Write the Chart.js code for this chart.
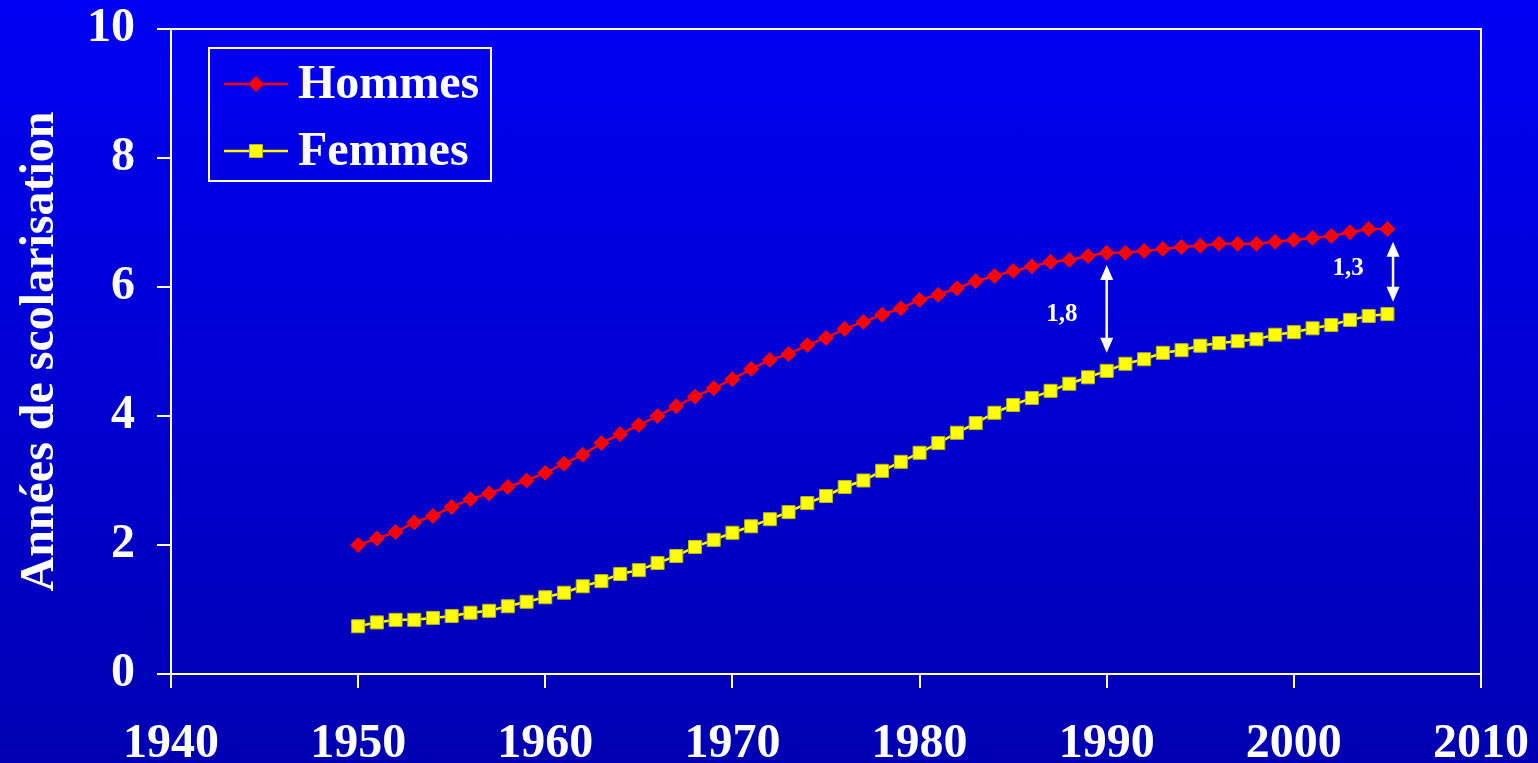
<!DOCTYPE html>
<html>
<head>
<meta charset="utf-8">
<script src="https://cdn.jsdelivr.net/npm/chart.js@4.4.1/dist/chart.umd.min.js"></script>
<style>
  html, body { margin: 0; padding: 0; width: 1538px; height: 763px; overflow: hidden; }
  body { background: linear-gradient(to bottom, #0000f4, #0000b2); }
  canvas { display: block; }
</style>
</head>
<body>
<canvas id="scol" width="1538" height="763"></canvas>
<script>
// Années de scolarisation moyennes, par sexe
const annees = [1950, 1951, 1952, 1953, 1954, 1955, 1956, 1957, 1958, 1959,
                1960, 1961, 1962, 1963, 1964, 1965, 1966, 1967, 1968, 1969,
                1970, 1971, 1972, 1973, 1974, 1975, 1976, 1977, 1978, 1979,
                1980, 1981, 1982, 1983, 1984, 1985, 1986, 1987, 1988, 1989,
                1990, 1991, 1992, 1993, 1994, 1995, 1996, 1997, 1998, 1999,
                2000, 2001, 2002, 2003, 2004, 2005];
const hommes = [2.0, 2.1, 2.2, 2.35, 2.45, 2.59, 2.71, 2.8, 2.9, 3.0,
                3.12, 3.26, 3.4, 3.58, 3.72, 3.86, 4.0, 4.15, 4.3, 4.43,
                4.57, 4.73, 4.87, 4.96, 5.1, 5.21, 5.35, 5.46, 5.57, 5.67,
                5.8, 5.88, 5.98, 6.09, 6.17, 6.25, 6.32, 6.39, 6.42, 6.48,
                6.53, 6.53, 6.56, 6.59, 6.62, 6.64, 6.67, 6.67, 6.67, 6.7,
                6.73, 6.76, 6.79, 6.85, 6.9, 6.9];
const femmes = [0.74, 0.8, 0.84, 0.84, 0.87, 0.9, 0.95, 0.98, 1.05, 1.12,
                1.19, 1.26, 1.36, 1.44, 1.55, 1.61, 1.72, 1.83, 1.97, 2.08,
                2.19, 2.29, 2.4, 2.51, 2.65, 2.76, 2.9, 3.0, 3.15, 3.29,
                3.43, 3.58, 3.74, 3.89, 4.05, 4.17, 4.28, 4.39, 4.5, 4.6,
                4.7, 4.81, 4.88, 4.98, 5.02, 5.09, 5.13, 5.16, 5.19, 5.26,
                5.3, 5.36, 5.41, 5.49, 5.55, 5.58];
const ticksX = [1940, 1950, 1960, 1970, 1980, 1990, 2000, 2010];
const ticksY = [0, 2, 4, 6, 8, 10];

// écarts hommes / femmes (flèches)
const ecarts = [
  { x: 1990, haut: 6.34, bas: 4.98, texte: '1,8', tx: 1987.6, ty: 5.57 },
  { x: 2005.3, haut: 6.70, bas: 5.77, texte: '1,3', tx: 2002.9, ty: 6.28 }
];

const police = '"Liberation Serif", "Times New Roman", serif';

// pas de marge automatique autour des axes
const sansMarge = s => { s.paddingTop = 0; s.paddingBottom = 0; s.paddingLeft = 0; s.paddingRight = 0; };

// cadre haut + droite
const cadre = {
  id: 'cadre',
  beforeDatasetsDraw(chart) {
    const { ctx, chartArea: a } = chart;
    ctx.save();
    ctx.strokeStyle = '#fff';
    ctx.lineWidth = 2;
    ctx.beginPath();
    ctx.moveTo(a.left, a.top);
    ctx.lineTo(a.right, a.top);
    ctx.lineTo(a.right, a.bottom);
    ctx.stroke();
    ctx.restore();
  }
};

const fleches = {
  id: 'fleches',
  afterDatasetsDraw(chart) {
    const { ctx, scales: { x, y } } = chart;
    ctx.save();
    ctx.strokeStyle = '#fff';
    ctx.fillStyle = '#fff';
    ctx.lineWidth = 2.5;
    ecarts.forEach(e => {
      const px = x.getPixelForValue(e.x);
      const y1 = y.getPixelForValue(e.haut);
      const y2 = y.getPixelForValue(e.bas);
      ctx.beginPath();
      ctx.moveTo(px, y1 + 8);
      ctx.lineTo(px, y2 - 8);
      ctx.stroke();
      ctx.beginPath();
      ctx.moveTo(px, y1);
      ctx.lineTo(px - 6.5, y1 + 15);
      ctx.lineTo(px + 6.5, y1 + 15);
      ctx.closePath();
      ctx.fill();
      ctx.beginPath();
      ctx.moveTo(px, y2);
      ctx.lineTo(px - 6.5, y2 - 15);
      ctx.lineTo(px + 6.5, y2 - 15);
      ctx.closePath();
      ctx.fill();
      ctx.font = 'bold 25px ' + police;
      ctx.textAlign = 'center';
      ctx.textBaseline = 'middle';
      ctx.fillText(e.texte, x.getPixelForValue(e.tx), y.getPixelForValue(e.ty));
    });
    ctx.restore();
  }
};

// légende encadrée dans la zone du graphique
const legende = {
  id: 'legende',
  afterDraw(chart) {
    const { ctx, chartArea: a } = chart;
    const x0 = a.left + 38, y0 = a.top + 19;
    ctx.save();
    ctx.strokeStyle = '#fff';
    ctx.lineWidth = 2;
    ctx.strokeRect(x0, y0, 282, 133);
    chart.data.datasets.forEach((ds, i) => {
      const cy = y0 + 36 + i * 67;
      ctx.strokeStyle = ds.borderColor;
      ctx.lineWidth = ds.borderWidth;
      ctx.beginPath();
      ctx.moveTo(x0 + 15, cy);
      ctx.lineTo(x0 + 79, cy);
      ctx.stroke();
      ctx.fillStyle = ds.pointBackgroundColor;
      ctx.strokeStyle = ds.pointBorderColor;
      ctx.lineWidth = 1;
      Chart.helpers.drawPoint(ctx, { pointStyle: ds.pointStyle, radius: ds.pointRadius, borderWidth: 1, rotation: 0 }, x0 + 47, cy);
      ctx.fillStyle = '#fff';
      ctx.font = 'bold 48px ' + police;
      ctx.textAlign = 'left';
      ctx.textBaseline = 'middle';
      ctx.fillText(ds.label, x0 + 89, cy + 2);
    });
    ctx.restore();
  }
};

new Chart(document.getElementById('scol'), {
  type: 'line',
  data: {
    datasets: [{
      label: 'Hommes',
      data: annees.map((a, i) => ({ x: a, y: hommes[i] })),
      borderColor: '#ff0000',
      borderWidth: 2.5,
      pointStyle: 'rectRot',
      pointRadius: 7.5,
      pointBackgroundColor: '#ff0000',
      pointBorderColor: '#ff0000',
      pointBorderWidth: 1,
      tension: 0
    }, {
      label: 'Femmes',
      data: annees.map((a, i) => ({ x: a, y: femmes[i] })),
      borderColor: '#ffff00',
      borderWidth: 2.5,
      pointStyle: 'rect',
      pointRadius: 9.2,
      pointBackgroundColor: '#ffff00',
      pointBorderColor: '#b8b800',
      pointBorderWidth: 1,
      tension: 0
    }]
  },
  options: {
    responsive: false,
    animation: false,
    layout: { padding: { top: 29, right: 57, left: 0, bottom: 0 } },
    plugins: {
      legend: { display: false },
      tooltip: { enabled: false }
    },
    scales: {
      x: {
        type: 'linear',
        min: ticksX[0],
        max: ticksX[ticksX.length - 1],
        afterBuildTicks: s => { s.ticks = ticksX.map(v => ({ value: v })); },
        afterFit: s => { s.height = 89; sansMarge(s); },
        ticks: {
          color: '#fff',
          padding: 28,
          maxRotation: 0,
          autoSkip: false,
          font: { family: police, size: 48, weight: 'bold' },
          callback: v => String(v)
        },
        grid: { drawOnChartArea: false, color: '#fff', lineWidth: 2, tickLength: 14 },
        border: { color: '#fff', width: 2 }
      },
      y: {
        min: ticksY[0],
        max: ticksY[ticksY.length - 1],
        afterBuildTicks: s => { s.ticks = ticksY.map(v => ({ value: v })); },
        afterFit: s => { s.width = 171; sansMarge(s); },
        ticks: {
          color: '#fff',
          padding: 22,
          font: { family: police, size: 48, weight: 'bold' },
          callback: v => String(v)
        },
        grid: { drawOnChartArea: false, color: '#fff', lineWidth: 2, tickLength: 14 },
        border: { color: '#fff', width: 2 },
        title: {
          display: true,
          text: 'Années de scolarisation',
          color: '#fff',
          font: { family: police, size: 48, weight: 'bold' },
          padding: { top: 12, bottom: 0 }
        }
      }
    }
  },
  plugins: [cadre, fleches, legende]
});
</script>
</body>
</html>
